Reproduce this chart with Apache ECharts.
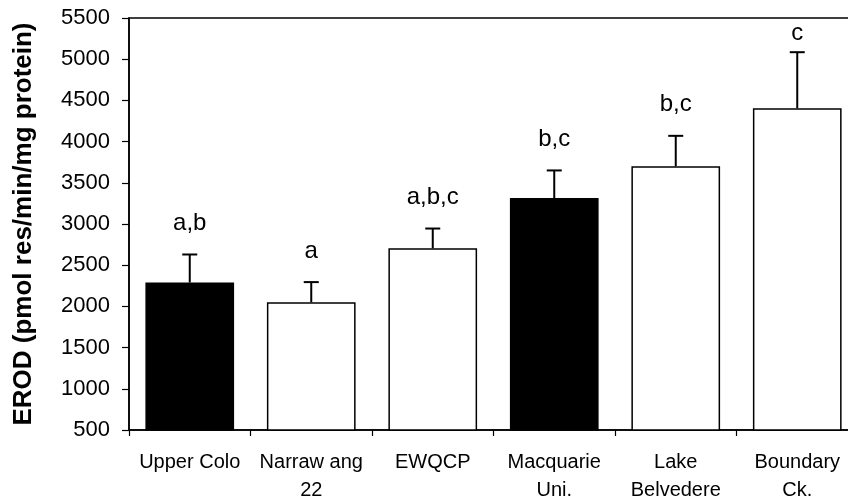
<!DOCTYPE html>
<html>
<head>
<meta charset="utf-8">
<script src="https://cdn.jsdelivr.net/npm/echarts@6/dist/echarts.min.js"></script>
<style>html,body{margin:0;padding:0;background:#fff;}#c{width:848px;height:503px;}</style>
</head>
<body>
<div id="c"></div>
<script>
const categories = ['Upper Colo', 'Narraw ang\n22', 'EWQCP', 'Macquarie\nUni.', 'Lake\nBelvedere', 'Boundary\nCk.'];
const means = [2290, 2050, 2705, 3315, 3700, 4405];
const se = [340, 245, 240, 335, 370, 680];
const letters = ['a,b', 'a', 'a,b,c', 'b,c', 'b,c', 'c'];
const referenceSite = [true, false, false, true, false, false];
const yTicks = { min: 500, max: 5500, interval: 500 };

const FONT = '"Liberation Sans", Arial, sans-serif';
const GRID_TOP = 18;
const chart = echarts.init(document.getElementById('c'), null, { renderer: 'canvas' });

chart.setOption({
  animation: false,
  backgroundColor: '#fff',
  grid: { left: 129, width: 729, top: GRID_TOP, bottom: 73, show: true, borderColor: '#000', borderWidth: 1.5, backgroundColor: 'transparent', outerBoundsMode: 'none' },
  xAxis: {
    type: 'category',
    data: categories,
    boundaryGap: true,
    axisLine: { show: true, lineStyle: { color: '#000', width: 1.5 } },
    axisTick: { show: true, inside: false, length: 6, lineStyle: { color: '#000', width: 1.2 } },
    axisLabel: { color: '#000', fontFamily: FONT, fontSize: 20, lineHeight: 28, margin: 18, interval: 0 },
    splitLine: { show: false }
  },
  yAxis: {
    type: 'value',
    min: yTicks.min, max: yTicks.max, interval: yTicks.interval,
    name: 'EROD (pmol res/min/mg protein)',
    nameLocation: 'middle',
    nameGap: 92,
    nameRotate: 90,
    nameTextStyle: { color: '#000', fontFamily: FONT, fontSize: 26, fontWeight: 'bold' },
    axisLine: { show: true, lineStyle: { color: '#000', width: 1.5 } },
    axisTick: { show: true, inside: false, length: 7, lineStyle: { color: '#000', width: 1.2 } },
    axisLabel: { color: '#000', fontFamily: FONT, fontSize: 22, margin: 19, formatter: v => String(v) },
    splitLine: { show: false }
  },
  series: [
    {
      type: 'bar',
      barCategoryGap: '27%',
      data: means.map((v, i) => ({
        value: v,
        itemStyle: { color: referenceSite[i] ? '#000' : '#fff', borderColor: '#000', borderWidth: 1.5 }
      })),
      z: 2
    },
    {
      type: 'custom',
      z: 3,
      data: means.map((m, i) => [i, m, se[i]]),
      renderItem: function (params, api) {
        const i = api.value(0);
        const m = api.value(1);
        const e = api.value(2);
        const base = api.coord([i, m]);
        const top = api.coord([i, m + e]);
        const half = 7.5;
        const textBottom = Math.max(top[1] - 19, GRID_TOP + 27);
        return {
          type: 'group',
          children: [
            { type: 'line', shape: { x1: base[0], y1: base[1], x2: top[0], y2: top[1] }, style: { stroke: '#000', lineWidth: 2 } },
            { type: 'line', shape: { x1: top[0] - half, y1: top[1], x2: top[0] + half, y2: top[1] }, style: { stroke: '#000', lineWidth: 2 } },
            { type: 'text', style: { text: letters[i], x: top[0], y: textBottom, align: 'center', verticalAlign: 'bottom', fill: '#000', font: '24px ' + FONT } }
          ]
        };
      }
    }
  ]
});
</script>
</body>
</html>
